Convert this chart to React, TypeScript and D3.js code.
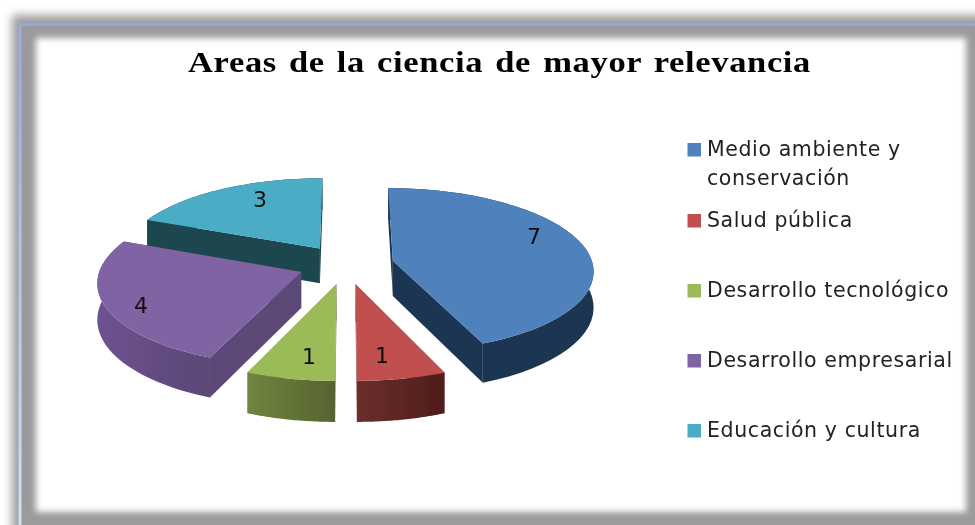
import React from "react";
import * as d3 from "d3";

const categories = ["Medio ambiente y|conservación", "Salud pública", "Desarrollo tecnológico", "Desarrollo empresarial", "Educación y cultura"];
const values = [7, 1, 1, 4, 3];
const topColors = ["#4f81bd", "#c0504d", "#9bbb59", "#8064a2", "#4bacc6"];
const wallFrom = ["#1f3552", "#6b2f2d", "#6f8540", "#6d5290", "#1e4650"];
const wallTo = ["#1f3552", "#4f1c1b", "#56632f", "#5b4776", "#1e4650"];
const edgeColors = ["#1f3552", "#6b2f2d", "#56632f", "#5d4878", "#1e4650"];
const legendY = [149, 220, 290, 360, 430];
const title = "Areas de la ciencia de mayor relevancia";

const CX = 346, CY = 264.5, R = 200, EXPLODE = 48, DIST = 1822, TILT = 0.407, HEIGHT = 35.5;

function project(x: number, y: number, z = 0): [number, number] {
  const s = DIST / (DIST + y);
  return [CX + x * s, CY - TILT * y * s + z * s];
}

const line = d3.line();
const arcs = d3.pie<number>().sort(null)(values);

function slicePaths(a: d3.PieArcDatum<number>) {
  const mid = (a.startAngle + a.endAngle) / 2;
  const ox = EXPLODE * Math.sin(mid), oy = EXPLODE * Math.cos(mid);
  const angles = d3.range(0, 41).map((i) => a.startAngle + ((a.endAngle - a.startAngle) * i) / 40);
  const rim = angles.map((t) => [ox + R * Math.sin(t), oy + R * Math.cos(t)] as [number, number]);
  const apex: [number, number] = [ox, oy];
  const up = (p: [number, number]) => project(p[0], p[1]);
  const dn = (p: [number, number]) => project(p[0], p[1], HEIGHT);
  const top = line([up(apex), ...rim.map(up)]) + "Z";
  const outer = line([...rim.map(up), ...rim.slice().reverse().map(dn)]) + "Z";
  const e1 = line([up(apex), up(rim[0]), dn(rim[0]), dn(apex)]) + "Z";
  const e2 = line([up(apex), up(rim[40]), dn(rim[40]), dn(apex)]) + "Z";
  return { top, outer, e1, e2 };
}

const drawOrder = [4, 3, 0, 2, 1];
const labelAt: [number, number][] = [[534, 244], [382, 363], [309, 364], [141, 313], [260, 207]];
const font = "'DejaVu Sans', Verdana, sans-serif";

export default function App() {
  const paths = arcs.map(slicePaths);
  return (
    <svg width={975} height={525} style={{ position: "fixed", left: 0, top: 0 }}>
      <defs>
        <filter id="blurOut" x="-10%" y="-10%" width="120%" height="120%"><feGaussianBlur stdDeviation="5" /></filter>
        <filter id="blurIn" x="-10%" y="-10%" width="120%" height="120%"><feGaussianBlur stdDeviation="3" /></filter>
        <filter id="soft"><feGaussianBlur stdDeviation="0.5" /></filter>
        <linearGradient id="frameLine" gradientUnits="userSpaceOnUse" x1="0" y1="24" x2="0" y2="525">
          <stop offset="0" stopColor="#93acde" />
          <stop offset="1" stopColor="#d3def3" />
        </linearGradient>
        {values.map((_, i) => (
          <linearGradient key={i} id={`w${i}`} x1="0" x2="1" y1="0" y2="0">
            <stop offset="0" stopColor={wallFrom[i]} />
            <stop offset="1" stopColor={wallTo[i]} />
          </linearGradient>
        ))}
      </defs>
      <rect width={975} height={525} fill="#ffffff" />
      <rect x={12} y={15} width={975} height={530} fill="#9b9b9d" filter="url(#blurOut)" />
      <rect x={20} y={24} width={975} height={530} fill="#9b9b9d" />
      <rect x={36} y={38} width={930} height={474} fill="#ffffff" filter="url(#blurIn)" />
      <path d="M20 525V25" fill="none" stroke="url(#frameLine)" strokeWidth={3} />
      <path d="M18.5 24.5H975" fill="none" stroke="#8fa9dc" strokeWidth={3} />
      <g filter="url(#soft)">
        <text x={188} y={72} textLength={623} lengthAdjust="spacingAndGlyphs" fontFamily="'Liberation Serif', serif" fontWeight="bold" fontSize={29.5} letterSpacing={0.55} wordSpacing={2.4} fill="#000">{title}</text>
        {drawOrder.map((i) => (
          <g key={i}>
            <path d={paths[i].e1} fill={edgeColors[i]} />
            <path d={paths[i].e2} fill={edgeColors[i]} />
            <path d={paths[i].outer} fill={`url(#w${i})`} />
            <path d={paths[i].top} fill={topColors[i]} />
          </g>
        ))}
        {values.map((v, i) => (
          <text key={i} x={labelAt[i][0]} y={labelAt[i][1]} textAnchor="middle" fontFamily={font} fontSize={22} fill="#111">{v}</text>
        ))}
        {categories.map((c, i) => (
          <g key={c}>
            <rect x={687.5} y={legendY[i] - 6} width={13.5} height={13.5} fill={topColors[i]} />
            {c.split("|").map((t, j) => (
              <text key={t} x={707} y={legendY[i] + 7 + j * 29} fontFamily={font} fontSize={20.5} letterSpacing={0.6} fill="#222">{t}</text>
            ))}
          </g>
        ))}
      </g>
    </svg>
  );
}
